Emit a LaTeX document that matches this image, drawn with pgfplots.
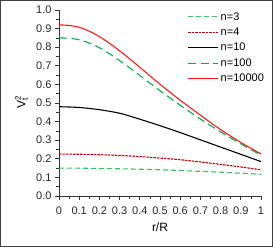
\documentclass[border=0pt]{standalone}
\usepackage{pgfplots}
\pgfplotsset{compat=1.18}
\usepackage{fontspec}
\setmainfont{Liberation Sans}
\definecolor{gA}{HTML}{33C466}
\definecolor{gB}{HTML}{00B050}
\definecolor{rA}{HTML}{C00000}
\definecolor{rB}{HTML}{FF1A1A}
\begin{document}
\begin{tikzpicture}[x=1pt,y=1pt]
\draw[black!75,line width=1.2pt] (0.6,0.6) rectangle (272.4,246.4);
\begin{axis}[
  at={(59pt,51pt)}, anchor=origin,
  scale only axis, width=202pt, height=186pt,
  xmin=0, xmax=1, ymin=0, ymax=1,
  axis lines=left, axis line style={-, black!80, line width=0.8pt},
  tick align=outside, tick style={black!80, line width=0.8pt},
  major tick length=4pt, minor tick length=2.5pt,
  xtick={0,0.1,...,1.0}, xticklabels={0,0.1,0.2,0.3,0.4,0.5,0.6,0.7,0.8,0.9,1},
  minor xtick={0.05,0.15,...,0.95},
  ytick={0,0.1,...,1.0}, minor ytick={0.05,0.15,...,0.95},
  yticklabel style={/pgf/number format/.cd,fixed,fixed zerofill,precision=1},
  /pgf/number format/assume math mode=true,
  ticklabel style={font=\fontsize{11}{12}\selectfont, text=black!85},
  xticklabel style={yshift=-3pt},
  xlabel={r/R}, xlabel style={font=\fontsize{12}{13}\selectfont, yshift=-2pt},
  ylabel={\begin{tabular}{@{}l@{\kern0pt}l@{}}\smash{V}&\smash{\raisebox{4.5pt}{\fontsize{8}{9}\selectfont 2}}\kern-4.5pt\smash{\raisebox{-2.5pt}{\fontsize{8.5}{9}\selectfont t}}\end{tabular}},
  ylabel style={font=\fontsize{12}{13}\selectfont},
  legend style={at={(1.04,1.01)}, anchor=north east, draw=none, fill=none,
    font=\fontsize{11}{12}\selectfont, row sep=2.3pt, cells={anchor=west}},
  legend image code/.code={\draw[#1] (0pt,0pt) -- (30pt,0pt);},
  every axis plot/.append style={line width=1.1pt, smooth},
]
\addplot[gA, dash pattern=on 5pt off 3pt] coordinates {
(0,0.150)(0.1,0.1495)(0.2,0.148)(0.3,0.1465)(0.4,0.144)(0.5,0.141)(0.6,0.137)(0.7,0.1325)(0.8,0.128)(0.9,0.1225)(1,0.117)};
\addlegendentry{n=3}
\addplot[rA, dash pattern=on 2.5pt off 1pt] coordinates {
(0,0.225)(0.1,0.2245)(0.2,0.222)(0.3,0.218)(0.4,0.212)(0.5,0.204)(0.6,0.195)(0.7,0.183)(0.8,0.170)(0.9,0.156)(1,0.141)};
\addlegendentry{n=4}
\addplot[black] coordinates {
(0,0.480)(0.1,0.476)(0.2,0.464)(0.3,0.445)(0.4,0.413)(0.5,0.378)(0.6,0.341)(0.7,0.302)(0.8,0.263)(0.9,0.224)(1,0.185)};
\addlegendentry{n=10}
\addplot[gB, dash pattern=on 8pt off 4.5pt] coordinates {
(0,0.850)(0.05,0.848)(0.1,0.840)(0.15,0.822)(0.2,0.797)(0.25,0.765)(0.3,0.728)(0.35,0.689)(0.4,0.648)(0.5,0.566)(0.6,0.488)(0.7,0.414)(0.8,0.345)(0.9,0.280)(1,0.220)};
\addlegendentry{n=100}
\addplot[rB] coordinates {
(0,0.920)(0.05,0.917)(0.1,0.907)(0.15,0.886)(0.2,0.857)(0.25,0.821)(0.3,0.781)(0.35,0.737)(0.4,0.692)(0.5,0.601)(0.6,0.515)(0.7,0.435)(0.8,0.357)(0.9,0.288)(1,0.226)};
\addlegendentry{n=10000}
\end{axis}
\end{tikzpicture}
\end{document}
